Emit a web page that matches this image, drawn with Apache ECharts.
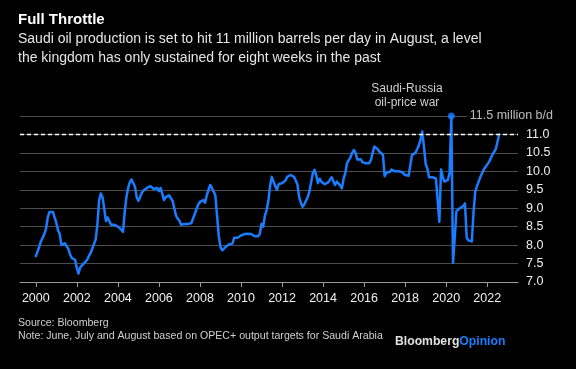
<!DOCTYPE html>
<html><head><meta charset="utf-8">
<script src="https://cdn.jsdelivr.net/npm/echarts@6/dist/echarts.min.js"></script>
<style>html,body{margin:0;padding:0;background:#000;}#c{width:576px;height:369px;}</style>
</head><body><div id="c"></div>
<script>
// Monthly Saudi crude output, million barrels per day (Jan..Dec)
const prod2000 = [7.70,7.72,7.95,8.10,8.20,8.30,8.45,8.75,8.90,8.95,8.90,8.75];
const prod2001 = [8.60,8.40,8.30,8.00,7.97,8.05,8.05,7.90,7.75,7.65,7.63,7.60];
const prod2002 = [7.38,7.23,7.40,7.45,7.50,7.55,7.60,7.70,7.78,7.90,7.95,8.15];
const prod2003 = [8.55,9.20,9.40,9.30,9.00,8.65,8.75,8.65,8.55,8.55,8.55,8.52];
const prod2004 = [8.50,8.45,8.42,8.36,8.90,9.30,9.55,9.70,9.78,9.78,9.58,9.30];
const prod2005 = [9.20,9.30,9.42,9.48,9.50,9.55,9.60,9.60,9.58,9.52,9.55,9.55];
const prod2006 = [9.46,9.55,9.50,9.22,9.30,9.25,9.35,9.30,9.20,9.00,8.80,8.72];
const prod2007 = [8.66,8.55,8.52,8.57,8.57,8.57,8.57,8.60,8.65,8.85,8.98,9.10];
const prod2008 = [9.17,9.20,9.22,9.15,9.35,9.50,9.63,9.55,9.45,9.35,8.80,8.25];
const prod2009 = [7.95,7.86,7.90,7.95,7.98,8.02,8.03,8.04,8.20,8.20,8.20,8.22];
const prod2010 = [8.26,8.24,8.30,8.30,8.31,8.31,8.30,8.28,8.24,8.24,8.24,8.30];
const prod2011 = [8.58,8.50,8.80,8.95,9.20,9.60,9.85,9.80,9.60,9.50,9.65,9.65];
const prod2012 = [9.68,9.72,9.75,9.85,9.88,9.90,9.90,9.85,9.80,9.65,9.30,9.15];
const prod2013 = [9.04,9.10,9.20,9.30,9.45,9.70,9.95,10.04,9.90,9.68,9.80,9.72];
const prod2014 = [9.68,9.65,9.63,9.70,9.77,9.84,9.80,9.63,9.72,9.77,9.62,9.54];
const prod2015 = [9.80,9.95,10.22,10.30,10.38,10.50,10.58,10.50,10.32,10.31,10.33,10.25];
const prod2016 = [10.23,10.22,10.22,10.22,10.31,10.50,10.67,10.65,10.60,10.53,10.48,10.45];
const prod2017 = [9.87,9.96,9.95,9.98,10.05,10.04,10.00,10.00,10.00,9.98,9.98,9.97];
const prod2018 = [9.90,9.87,9.88,9.92,10.44,10.44,10.50,10.60,10.71,10.85,11.08,10.67];
const prod2019 = [10.20,10.08,9.84,9.84,9.84,9.80,9.80,9.80,8.63,10.05,9.85,9.72];
const prod2020 = [9.72,9.77,9.95,11.50,7.52,8.20,8.92,8.97,9.00,9.02,9.06,9.13];
const prod2021 = [8.20,8.13,8.10,8.10,8.90,9.45,9.60,9.72,9.85,9.95,10.05,10.12];
const prod2022 = [10.15,10.25,10.35,10.45,10.50,10.60,10.80,11.00];

const yearBlocks = [prod2000,prod2001,prod2002,prod2003,prod2004,prod2005,prod2006,prod2007,
  prod2008,prod2009,prod2010,prod2011,prod2012,prod2013,prod2014,prod2015,prod2016,prod2017,
  prod2018,prod2019,prod2020,prod2021,prod2022];
const firstYear = 2000;

const xTickYears = [2000,2002,2004,2006,2008,2010,2012,2014,2016,2018,2020,2022];
const yTickValues = [7.0,7.5,8.0,8.5,9.0,9.5,10.0,10.5,11.0];
const targetLevel = 11.0;
const peakPoint = [2020 + 3/12, 11.5];
const peakLabel = '11.5 million b/d';
const eventLabel = 'Saudi-Russia\noil-price war';

const titleText = 'Full Throttle';
const subtitleText = 'Saudi oil production is set to hit 11 million barrels per day in August, a level\nthe kingdom has only sustained for eight weeks in the past';
const sourceText = 'Source: Bloomberg\nNote: June, July and August based on OPEC+ output targets for Saudi Arabia';

const seriesData = [];
yearBlocks.forEach((arr, i) => arr.forEach((v, m) => seriesData.push([firstYear + i + m / 12, v])));

const FONT = 'Liberation Sans, Arial, sans-serif';
const chart = echarts.init(document.getElementById('c'), null, {renderer: 'canvas'});
chart.setOption({
  backgroundColor: '#000',
  animation: false,
  title: [
    {text: titleText, left: 13, top: 7, textStyle: {color: '#fff', fontSize: 15, fontWeight: 'bold', fontFamily: FONT}},
    {text: subtitleText, left: 13, top: 25, textStyle: {color: '#e6e6e6', fontSize: 14, fontWeight: 'normal', lineHeight: 18.5, fontFamily: FONT}},
    {text: eventLabel, left: 402, top: 76, textAlign: 'center', textStyle: {color: '#d0d0d0', fontSize: 12, fontWeight: 'normal', lineHeight: 14.5, fontFamily: FONT}},
    {text: sourceText, left: 13, top: 312, textStyle: {color: '#d0d0d0', fontSize: 10.6, fontWeight: 'normal', lineHeight: 13, fontFamily: FONT}},
    {text: '{a|Bloomberg}{b|Opinion}', left: 390, top: 331, textStyle: {fontFamily: FONT, rich: {
      a: {color: '#e0e0e0', fontSize: 12.2, fontWeight: 'bold', fontFamily: FONT},
      b: {color: '#1a7dff', fontSize: 12.2, fontWeight: 'bold', fontFamily: FONT}}}}
  ],
  grid: {left: 20, right: 58, top: 116, bottom: 87, containLabel: false},
  xAxis: {
    type: 'value', min: 1999.23, max: 2023.5,
    axisLine: {show: true, lineStyle: {color: '#9a9a9a', width: 1}},
    axisTick: {show: true, length: 5, lineStyle: {color: '#9a9a9a'}, customValues: xTickYears},
    axisLabel: {color: '#f0f0f0', fontSize: 12.5, margin: 10, fontFamily: FONT, customValues: xTickYears,
      formatter: v => String(Math.round(v))},
    splitLine: {show: false}
  },
  yAxis: {
    type: 'value', position: 'right', min: 7, max: 11.5, interval: 0.5,
    axisLine: {show: false}, axisTick: {show: false},
    axisLabel: {color: '#f0f0f0', fontSize: 12.5, margin: 8, fontFamily: FONT,
      formatter: v => yTickValues.some(t => Math.abs(t - v) < 1e-6) ? v.toFixed(1) : ''},
    splitLine: {show: true, lineStyle: {color: '#4d4d4d', width: 1}}
  },
  series: [
    {
      type: 'line', data: seriesData, showSymbol: false, smooth: false,
      lineStyle: {color: '#1a7dff', width: 2.5, join: 'round', cap: 'round'},
      z: 3,
      markLine: {
        silent: true, symbol: 'none', label: {show: false},
        lineStyle: {color: '#ffffff', type: [4, 3], width: 1.3},
        data: [{yAxis: targetLevel}]
      }
    },
    {
      type: 'scatter', data: [peakPoint], symbolSize: 7, z: 4,
      itemStyle: {color: '#1a7dff'},
      label: {show: true, position: 'right', distance: 12, formatter: peakLabel,
        color: '#e6e6e6', fontSize: 12.5, fontFamily: FONT, backgroundColor: '#000', padding: [2, 20, 2, 3]}
    }
  ]
});
</script></body></html>
